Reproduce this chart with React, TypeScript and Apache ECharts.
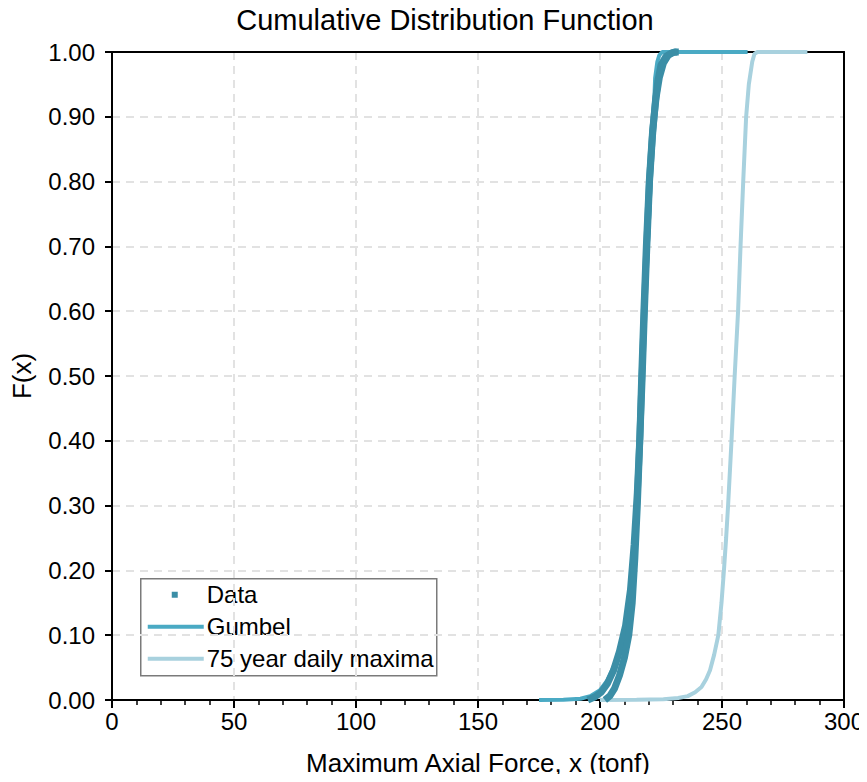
import React, { useEffect, useRef } from "react";
import * as echarts from "echarts";

const title = "Cumulative Distribution Function";
const xName = "Maximum Axial Force, x (tonf)";
const yName = "F(x)";
const legendNames = ["Data", "Gumbel", "75 year daily maxima"];

// Empirical data (two overlapping strands of plotted points)
const dataStrandA: [number, number][] = [
  [195, 0.0], [198, 0.005], [200.5, 0.012], [203, 0.025], [205.5, 0.045],
  [208, 0.075], [210.5, 0.115], [212.5, 0.17], [214, 0.24], [215.3, 0.32],
  [216.4, 0.41], [217.3, 0.5], [218.2, 0.6], [219.2, 0.7], [220.3, 0.8],
  [221.5, 0.87], [222.6, 0.92], [223.7, 0.955], [225, 0.98], [227, 0.993],
  [229.5, 0.999], [231.5, 1.0],
];
const dataStrandB: [number, number][] = [
  [202, 0.0], [204, 0.006], [206, 0.018], [208, 0.038], [210, 0.065],
  [211.8, 0.1], [213.2, 0.15], [214.3, 0.22], [215.3, 0.3], [216.3, 0.4],
  [217.1, 0.5], [218, 0.6], [219, 0.7], [220.2, 0.8], [221.6, 0.88],
  [223, 0.93], [224.3, 0.96], [226, 0.983], [228, 0.995], [230.5, 1.0],
  [232.3, 1.0],
];
const gumbel: [number, number][] = [
  [175, 0.0], [185, 0.0005], [192, 0.002], [196, 0.006], [200, 0.015],
  [203, 0.03], [206, 0.055], [208.5, 0.085], [210.5, 0.12], [212.5, 0.18],
  [214, 0.25], [215.5, 0.35], [216.7, 0.45], [217.8, 0.55], [219, 0.65],
  [220.2, 0.75], [221.3, 0.85], [222, 0.9], [222.6, 0.96], [223.5, 0.985],
  [224.3, 0.995], [225.5, 1.0], [260.5, 1.0],
];
const yearly75: [number, number][] = [
  [200, 0.0], [215, 0.0005], [226, 0.001], [232, 0.003], [236, 0.006],
  [239, 0.012], [241.6, 0.02], [243.5, 0.032], [245.1, 0.046], [246.8, 0.07],
  [248.5, 0.1], [249.8, 0.15], [250.8, 0.2], [251.7, 0.25], [252.5, 0.3],
  [253.9, 0.4], [255.2, 0.5], [256.6, 0.6], [257.6, 0.7], [258.7, 0.8],
  [259.9, 0.9], [261, 0.95], [262.4, 0.985], [263.3, 0.997], [264.5, 1.0],
  [285, 1.0],
];

const C_DATA = "#3b8ea6";
const C_GUMBEL = "#4aaac4";
const C_75 = "#a8d1de";
const FONT = "'Liberation Sans', Arial, sans-serif";

export default function App() {
  const ref = useRef<HTMLDivElement>(null);
  useEffect(() => {
    if (!ref.current) return;
    const chart = echarts.init(ref.current, undefined, { renderer: "svg" });
    const gridDash = { color: "#e2e2e2", width: 2, type: [8, 6] as any };
    const frameAxis = {
      show: true,
      axisLine: { show: true, onZero: false, lineStyle: { color: "#000", width: 2 } },
      axisTick: { show: false },
      axisLabel: { show: false },
      splitLine: { show: false },
    };
    chart.setOption({
      animation: false,
      backgroundColor: "#fff",
      textStyle: { fontFamily: FONT },
      title: {
        text: title,
        left: 440,
        textAlign: "center",
        top: 0,
        textStyle: { fontSize: 29, fontWeight: "normal", color: "#000", fontFamily: FONT },
      },
      grid: { left: 112, right: 21, top: 52, bottom: 82 },
      xAxis: [
        {
          type: "value", min: 0, max: 300, interval: 50, position: "bottom",
          name: xName, nameLocation: "middle", nameGap: 50,
          nameTextStyle: { fontSize: 26, color: "#000", fontFamily: FONT },
          axisLine: { show: true, onZero: false, lineStyle: { color: "#000", width: 2 } },
          axisTick: { show: true, length: 8, lineStyle: { color: "#000", width: 2 } },
          minorTick: { show: true, splitNumber: 5, length: 5, lineStyle: { color: "#000", width: 1.5 } },
          axisLabel: { fontSize: 24, color: "#000", margin: 9, fontFamily: FONT },
          splitLine: { show: true, lineStyle: gridDash },
        },
        { type: "value", min: 0, max: 300, position: "top", ...frameAxis },
      ],
      yAxis: [
        {
          type: "value", min: 0, max: 1, interval: 0.1, position: "left",
          name: yName, nameLocation: "middle", nameGap: 77,
          nameTextStyle: { fontSize: 26, color: "#000", fontFamily: FONT },
          axisLine: { show: true, onZero: false, lineStyle: { color: "#000", width: 2 } },
          axisTick: { show: true, length: 7, lineStyle: { color: "#000", width: 2 } },
          axisLabel: {
            fontSize: 24, color: "#000", margin: 17, fontFamily: FONT,
            formatter: (v: number) => v.toFixed(2),
          },
          splitLine: { show: true, lineStyle: gridDash },
        },
        { type: "value", min: 0, max: 1, position: "right", ...frameAxis },
      ],
      series: [
        {
          name: legendNames[2], type: "line", data: yearly75, showSymbol: false,
          clip: false, lineStyle: { color: C_75, width: 4 }, z: 3,
        },
        {
          name: legendNames[1], type: "line", data: gumbel, showSymbol: false,
          clip: false, lineStyle: { color: C_GUMBEL, width: 4 }, z: 4,
        },
        {
          name: legendNames[0], type: "line", data: dataStrandA, showSymbol: false,
          clip: false, lineStyle: { color: C_DATA, width: 7 }, z: 5,
        },
        {
          name: legendNames[0], type: "line", data: dataStrandB, showSymbol: false,
          clip: false, lineStyle: { color: C_DATA, width: 7 }, z: 5,
        },
      ],
      graphic: [
        {
          type: "group", left: 140, top: 578, z: 100,
          children: [
            { type: "rect", shape: { x: 0, y: 0, width: 296, height: 97 },
              style: { fill: "#fff", stroke: "#7a7a7a", lineWidth: 1.5 } },
            { type: "rect", shape: { x: 31, y: 13, width: 6, height: 6 }, style: { fill: C_DATA } },
            { type: "text", x: 66, y: 16, style: { text: legendNames[0], font: `24px ${FONT}`, fill: "#000", verticalAlign: "middle" } },
            { type: "line", shape: { x1: 7, y1: 48, x2: 63, y2: 48 }, style: { stroke: C_GUMBEL, lineWidth: 4 } },
            { type: "text", x: 66, y: 48, style: { text: legendNames[1], font: `24px ${FONT}`, fill: "#000", verticalAlign: "middle" } },
            { type: "line", shape: { x1: 7, y1: 80, x2: 63, y2: 80 }, style: { stroke: C_75, lineWidth: 4 } },
            { type: "text", x: 66, y: 80, style: { text: legendNames[2], font: `24px ${FONT}`, fill: "#000", verticalAlign: "middle" } },
          ],
        },
      ],
    });
    return () => chart.dispose();
  }, []);
  return <div ref={ref} style={{ width: 867, height: 782, margin: -8 }} />;
}
